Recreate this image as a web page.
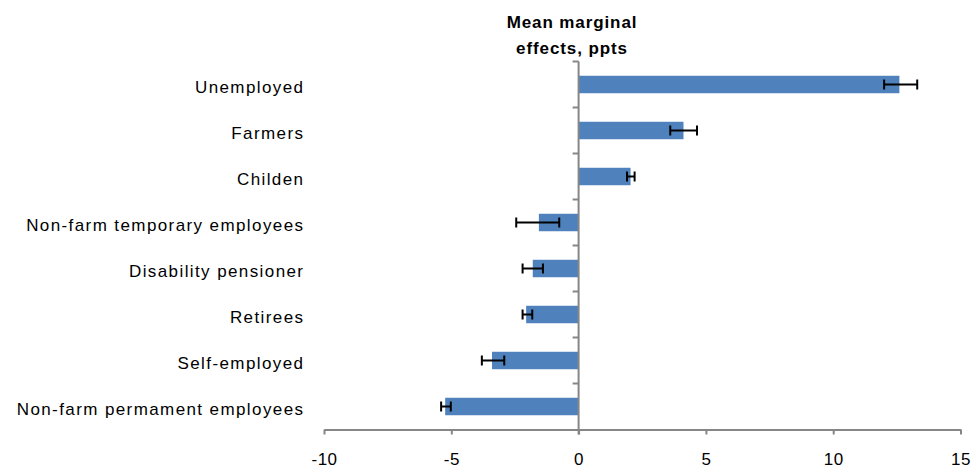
<!DOCTYPE html>
<html>
<head>
<meta charset="utf-8">
<script src="https://cdn.jsdelivr.net/npm/d3@7"></script>
<style>
  body { margin: 0; background: #fff; }
  #wrapper { width: 973px; height: 468px; }
</style>
</head>
<body>
<div id="wrapper"></div>
<script>
// Data
const categories = [
  "Unemployed",
  "Farmers",
  "Childen",
  "Non-farm temporary employees",
  "Disability pensioner",
  "Retirees",
  "Self-employed",
  "Non-farm permament employees",
];
const effects = [12.6, 4.12, 2.04, -1.56, -1.8, -2.06, -3.4, -5.24];
const ciLow = [12.0, 3.6, 1.9, -2.45, -2.2, -2.2, -3.8, -5.4];
const ciHigh = [13.3, 4.65, 2.2, -0.76, -1.4, -1.82, -2.92, -5.02];
const xTicks = [-10, -5, 0, 5, 10, 15];
const titleLines = ["Mean marginal", "effects, ppts"];

const dataset = categories.map((c, i) => ({
  name: c,
  value: effects[i],
  low: ciLow[i],
  high: ciHigh[i],
}));

// Dimensions
let dimensions = {
  width: 973,
  height: 468,
  margins: { top: 61.5, right: 12.5, bottom: 38.5, left: 324 },
};
dimensions.boundedWidth =
  dimensions.width - dimensions.margins.left - dimensions.margins.right;
dimensions.boundedHeight =
  dimensions.height - dimensions.margins.top - dimensions.margins.bottom;

const font = "'Liberation Sans', Arial, sans-serif";
const axisColor = "#868686";

const wrapper = d3
  .select("#wrapper")
  .append("svg")
  .attr("width", dimensions.width)
  .attr("height", dimensions.height);

const bounds = wrapper
  .append("g")
  .attr("transform", `translate(${dimensions.margins.left},${dimensions.margins.top})`);

// Scales
const xScale = d3
  .scaleLinear()
  .domain([-10, 15])
  .range([0, dimensions.boundedWidth]);

const yScale = d3
  .scaleBand()
  .domain(categories)
  .range([0, dimensions.boundedHeight])
  .paddingInner(0.62)
  .paddingOuter(0.31);

const bandStep = yScale.step();

// Bars
bounds
  .append("g")
  .selectAll("rect")
  .data(dataset)
  .join("rect")
  .attr("x", (d) => xScale(Math.min(0, d.value)))
  .attr("y", (d) => yScale(d.name))
  .attr("width", (d) => Math.abs(xScale(d.value) - xScale(0)))
  .attr("height", yScale.bandwidth())
  .attr("fill", "#4f81bd");

// Error bars
const errGroups = bounds
  .append("g")
  .selectAll("g")
  .data(dataset)
  .join("g")
  .attr("transform", (d) => `translate(0,${yScale(d.name) + yScale.bandwidth() / 2})`)
  .attr("stroke", "#000")
  .attr("stroke-width", 2);

errGroups
  .append("line")
  .attr("x1", (d) => xScale(d.low))
  .attr("x2", (d) => xScale(d.high));

errGroups
  .append("line")
  .attr("x1", (d) => xScale(d.low))
  .attr("x2", (d) => xScale(d.low))
  .attr("y1", -5)
  .attr("y2", 5);

errGroups
  .append("line")
  .attr("x1", (d) => xScale(d.high))
  .attr("x2", (d) => xScale(d.high))
  .attr("y1", -5)
  .attr("y2", 5);

// X axis
const xAxis = bounds
  .append("g")
  .attr("transform", `translate(0,${dimensions.boundedHeight})`)
  .call(
    d3
      .axisBottom(xScale)
      .tickValues(xTicks)
      .tickFormat((d) => String(d))
      .tickSize(5)
      .tickPadding(18)
      .tickSizeOuter(0)
  );

xAxis.select(".domain").attr("stroke", axisColor).attr("stroke-width", 2);
xAxis.selectAll(".tick line").attr("stroke", axisColor).attr("stroke-width", 2);
xAxis
  .selectAll(".tick text")
  .attr("fill", "#000")
  .style("font-family", font)
  .style("font-size", "17px")
  .style("letter-spacing", "0.5px");

// Y axis at zero
const yAxis = bounds
  .append("g")
  .attr("transform", `translate(${xScale(0)},0)`);

yAxis
  .append("line")
  .attr("y1", 0)
  .attr("y2", dimensions.boundedHeight + 5)
  .attr("stroke", axisColor)
  .attr("stroke-width", 2);

yAxis
  .selectAll(".ytick")
  .data(d3.range(categories.length))
  .join("line")
  .attr("class", "ytick")
  .attr("x1", -6)
  .attr("x2", 0)
  .attr("y1", (i) => i * bandStep)
  .attr("y2", (i) => i * bandStep)
  .attr("stroke", axisColor)
  .attr("stroke-width", 2);

// Category labels
bounds
  .append("g")
  .selectAll("text")
  .data(dataset)
  .join("text")
  .attr("x", -19.6)
  .attr("y", (d) => yScale(d.name) + yScale.bandwidth() / 2)
  .attr("dy", "0.5em")
  .attr("text-anchor", "end")
  .style("font-family", font)
  .style("font-size", "17px")
  .style("letter-spacing", "1.4px")
  .text((d) => d.name);

// Title
wrapper
  .append("g")
  .selectAll("text")
  .data(titleLines)
  .join("text")
  .attr("x", 572)
  .attr("y", (d, i) => 28 + i * 26)
  .attr("text-anchor", "middle")
  .style("font-family", font)
  .style("font-size", "17px")
  .style("font-weight", "bold")
  .style("letter-spacing", "0.9px")
  .text((d) => d);
</script>
</body>
</html>
